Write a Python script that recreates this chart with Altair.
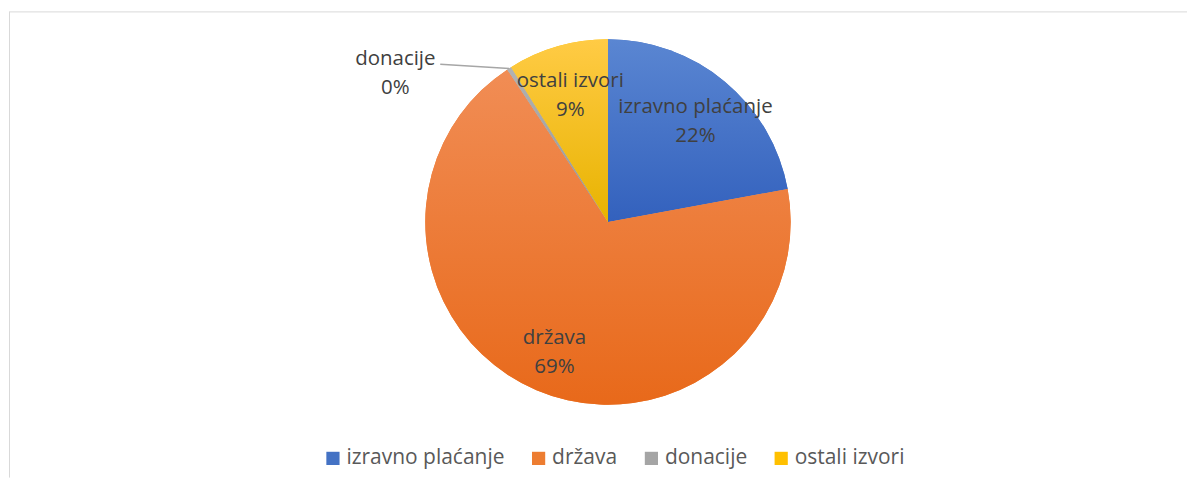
import math
import altair as alt
import pandas as pd

# ---- data ----
categories = ["izravno plaćanje", "država", "donacije", "ostali izvori"]
values = [22.1, 68.6, 0.4, 8.9]
colors = ["#4472C4", "#ED7D31", "#A5A5A5", "#FFC000"]
# per-slice shading (lighter top -> darker bottom), as in the original
grad_top = ["#5A86D2", "#F18D55", "#B2B2B2", "#FFCB45"]
grad_bottom = ["#3361BD", "#E8691A", "#969696", "#E8B300"]

df = pd.DataFrame({"kategorija": categories, "udio": values, "red": list(range(len(categories)))})
TOTAL = sum(values)

# ---- layout ----
W, H = 1180, 470
CX, CY, R = 600, 214, 183
LABEL_R = 137
FONT = "Open Sans"
FS = 20.5
LFS = 21
TXT = "#404040"

theta_scale = alt.Scale(domain=[0, TOTAL])

color = alt.Color(
    "kategorija:N",
    scale=alt.Scale(domain=categories, range=colors),
    legend=alt.Legend(
        orient="none", legendX=314, legendY=440, direction="horizontal", columns=4,
        symbolType="square", symbolSize=175, symbolStrokeWidth=0,
        labelFont=FONT, labelFontSize=LFS, labelColor="#595959",
        columnPadding=23, labelOffset=3, title=None, padding=0,
    ),
)

base = alt.Chart(df).encode(
    theta=alt.Theta("udio:Q", stack=True, scale=theta_scale),
    order=alt.Order("red:Q"),
)

pie = base.mark_arc(outerRadius=R).encode(
    color=color, x=alt.value(CX), y=alt.value(CY)
)

# gradient-shaded slices drawn over the flat pie
stacked = alt.Chart(df).transform_stack(
    stack="udio", groupby=[], as_=["t0", "t1"], sort=[alt.SortField("red")]
)
shaded = []
for cat, top, bot in zip(categories, grad_top, grad_bottom):
    grad = alt.Gradient(
        gradient="linear", x1=0, x2=0, y1=0, y2=1,
        stops=[alt.GradientStop(color=top, offset=0), alt.GradientStop(color=bot, offset=1)],
    )
    shaded.append(
        stacked.transform_filter(alt.datum.kategorija == cat)
        .mark_arc(outerRadius=R, color=grad)
        .encode(
            theta=alt.Theta("t0:Q", scale=theta_scale), theta2="t1:Q",
            x=alt.value(CX), y=alt.value(CY),
        )
    )

labels = base.transform_calculate(
    label="datum.kategorija == 'donacije' ? [''] : [datum.kategorija, format(datum.udio / 100, '.0%')]"
).mark_text(
    radius=LABEL_R, font=FONT, fontSize=FS, color=TXT, lineHeight=29, baseline="middle", dy=-10
).encode(text="label:N", x=alt.value(CX), y=alt.value(CY))

# outside label for the tiny slice, with a leader line to the slice edge
idx = categories.index("donacije")
mid = (sum(values[:idx]) + values[idx] / 2) / TOTAL * 2 * math.pi
edge_x = CX + R * math.sin(mid)
edge_y = CY - R * math.cos(mid)

don = alt.Chart(df).transform_filter("datum.kategorija == 'donacije'").transform_calculate(
    label="[datum.kategorija, format(datum.udio / 100, '.0%')]"
)
don_text = don.mark_text(
    font=FONT, fontSize=FS, color=TXT, lineHeight=29, baseline="middle", dy=-10
).encode(text="label:N", x=alt.value(387), y=alt.value(61))
don_line = don.mark_rule(color="#A6A6A6", strokeWidth=1.5).encode(
    x=alt.value(432), y=alt.value(56),
    x2=alt.value(edge_x), y2=alt.value(edge_y),
)

# chart frame (top and left edges visible)
frame_top = don.mark_rule(color="#D9D9D9", strokeWidth=1).encode(
    x=alt.value(0), x2=alt.value(W), y=alt.value(3.5), y2=alt.value(3.5)
)
frame_left = don.mark_rule(color="#D9D9D9", strokeWidth=1).encode(
    x=alt.value(0.5), x2=alt.value(0.5), y=alt.value(3.5), y2=alt.value(H)
)

chart = alt.layer(frame_top, frame_left, pie, *shaded, labels, don_line, don_text).properties(
    width=W, height=H, padding=0
).configure_view(stroke="transparent")

chart.save("out.html", embed_options={"renderer": "svg", "actions": False})
